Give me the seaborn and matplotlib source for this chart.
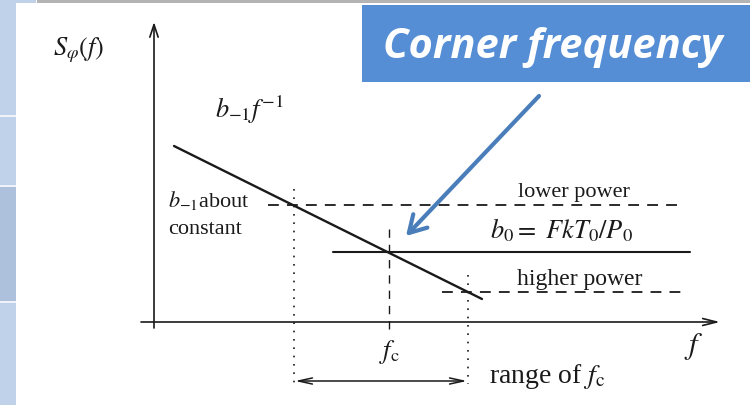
import pandas as pd
import seaborn as sns
import matplotlib.pyplot as plt
from matplotlib.patches import Rectangle

# schematic units: f grows to the right, S_phi(f) upward, origin at the axes corner
flicker_f = [0.20, 3.28]          # b_-1 f^-1 slope
flicker_s = [1.76, 0.23]
lower_f = [1.14, 5.25]            # lower power white floor
lower_s = 1.17
b0_f = [1.79, 5.36]               # b0 = FkT0/P0
b0_s = 0.70
higher_f = [2.88, 5.31]           # higher power white floor
higher_s = 0.30
fc = 2.35                         # corner frequency
fc_top = 0.97
range_f = [1.40, 3.14]            # range of f_c
range_top = [1.33, 0.47]
range_s = -0.59

segments = pd.DataFrame({
    "f": flicker_f + lower_f + b0_f + higher_f + [fc, fc] + [range_f[0]] * 2 + [range_f[1]] * 2,
    "S": flicker_s + [lower_s] * 2 + [b0_s] * 2 + [higher_s] * 2 + [-0.07, fc_top]
         + [range_top[0], -0.61] + [range_top[1], -0.62],
    "seg": ["flicker"] * 2 + ["lower"] * 2 + ["b0"] * 2 + ["higher"] * 2 + ["fc"] * 2
           + ["lo"] * 2 + ["hi"] * 2,
})
seg_style = {
    "flicker": dict(lw=1.7, ls="-"),
    "lower": dict(lw=1.3, ls=(0, (6, 4.5))),
    "b0": dict(lw=1.5, ls="-"),
    "higher": dict(lw=1.3, ls=(0, (6, 4.5))),
    "fc": dict(lw=1.0, ls=(0, (6, 5))),
    "lo": dict(lw=1.2, ls=(0, (1, 4))),
    "hi": dict(lw=1.2, ls=(0, (1, 4))),
}

sns.set_style("white")
plt.rcParams["font.family"] = ["Liberation Serif", "DejaVu Serif"]
plt.rcParams["mathtext.fontset"] = "stix"

ink = "#1a1a1a"
fig = plt.figure(figsize=(7.5, 4.05), dpi=100)
ax = fig.add_axes([0, 0, 1, 1])
ax.set_xlim(-1.54, 5.96)
ax.set_ylim(-0.83, 3.22)
ax.axis("off")

# slide decoration
fig.add_artist(Rectangle((0, 0), 16 / 750, 1, transform=fig.transFigure, color="#bfd2ea", lw=0))
fig.add_artist(Rectangle((0, 1 - 303 / 405), 16 / 750, 116 / 405, transform=fig.transFigure,
                         color="#adc1dc", lw=0))
for yy in [117, 187, 303]:
    fig.add_artist(Rectangle((0, 1 - yy / 405), 16 / 750, 2 / 405, transform=fig.transFigure,
                             color="#eef3f9", lw=0))
fig.add_artist(Rectangle((37 / 750, 1 - 3 / 405), 713 / 750, 3 / 405, transform=fig.transFigure,
                         color="#b4b4b4", lw=0))
fig.add_artist(Rectangle((0, 1 - 3 / 405), 36 / 750, 3 / 405, transform=fig.transFigure,
                         color="#bfd2ea", lw=0))

for name, grp in segments.groupby("seg", sort=False):
    sns.lineplot(data=grp, x="f", y="S", estimator=None, sort=False, color=ink, ax=ax,
                 **seg_style[name])

# axes of the sketch
ax.annotate("", xy=(0, 3.00), xytext=(0, -0.06),
            arrowprops=dict(arrowstyle="->,head_length=0.9,head_width=0.3", lw=1.2, color=ink,
                            shrinkA=0, shrinkB=0, mutation_scale=10))
ax.annotate("", xy=(5.66, 0), xytext=(-0.13, 0),
            arrowprops=dict(arrowstyle="->,head_length=1.0,head_width=0.25", lw=1.2, color=ink,
                            shrinkA=0, shrinkB=0, mutation_scale=10))
ax.annotate("", xy=(range_f[1] - 0.01, range_s), xytext=(range_f[0] + 0.01, range_s),
            arrowprops=dict(arrowstyle="<->,head_length=1.0,head_width=0.22", lw=1.1, color=ink,
                            shrinkA=0, shrinkB=0, mutation_scale=10))

ax.text(-1.01, 2.72, r"$S_\varphi(f)$", fontsize=19, color=ink, va="center", ha="left")
ax.text(0.61, 2.04, r"$b_{-1}f^{-1}$", fontsize=19, color=ink, va="baseline", ha="left")
ax.text(0.14, 1.15, r"$b_{-1}$about", fontsize=16, color=ink, va="baseline", ha="left")
ax.text(0.14, 0.88, "constant", fontsize=16, color=ink, va="baseline", ha="left")
ax.text(3.64, 1.25, "lower power", fontsize=16, color=ink, va="baseline", ha="left")
ax.text(3.36, 0.84, r"$b_0 =\ FkT_0/P_0$", fontsize=19, color=ink, va="baseline", ha="left")
ax.text(3.63, 0.37, "higher power", fontsize=17, color=ink, va="baseline", ha="left")
ax.text(fc, -0.30, r"$f_\mathrm{c}$", fontsize=19, color=ink, va="center", ha="center")
ax.text(5.40, -0.24, r"$f$", fontsize=22, color=ink, va="center", ha="center")
ax.text(3.35, -0.61, r"range of $f_\mathrm{c}$", fontsize=20, color=ink, va="baseline", ha="left")

# callout
fig.add_artist(Rectangle((362 / 750, 1 - 82 / 405), 388 / 750, 77 / 405,
                         transform=fig.transFigure, color="#558ed5", lw=0))
fig.text(553 / 750, 1 - 47 / 405, "Corner frequency", fontsize=30, color="white",
         fontweight="bold", fontstyle="italic", family=["Open Sans", "DejaVu Sans"],
         ha="center", va="center")
ax.annotate("", xy=(2.52, 0.86), xytext=(3.85, 2.26),
            arrowprops=dict(arrowstyle="->,head_length=0.6,head_width=0.35", lw=3, color="#4a7ebb",
                            shrinkA=0, shrinkB=0, mutation_scale=20))

fig.savefig("out.png", dpi=100)
